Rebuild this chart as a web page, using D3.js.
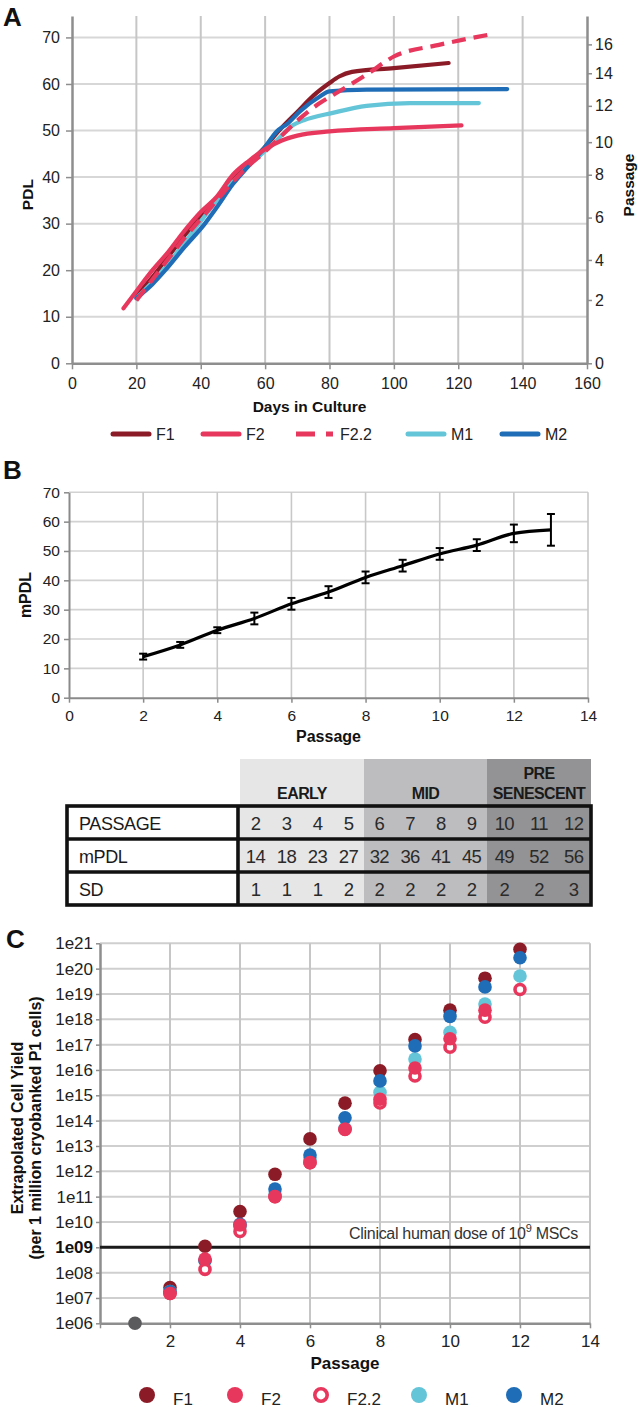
<!DOCTYPE html>
<html><head><meta charset="utf-8">
<script src="https://cdn.jsdelivr.net/npm/d3@7"></script>
<style>
body{margin:0;background:#fff;}
svg{display:block;font-family:"Liberation Sans",Arial,Helvetica,sans-serif;}
</style></head><body>
<svg id="chart" width="638" height="1407"></svg>
<script>
// ---------------- DATA ----------------
// Panel A: PDL vs days in culture
const seriesNames = ["F1","F2","F2.2","M1","M2"];
const curveF1  = [[20,14.5],[25,18.5],[30,23],[35,27.5],[40,31.5],[45,35.5],[50,39.5],[55,43],[60,46.5],[65,50.5],[70,54],[75,57.5],[80,60.2],[83,61.6],[87,62.6],[100,63.4],[117,64.5]];
const curveF2  = [[16,11.8],[20,15.5],[25,20],[30,24],[35,28.5],[40,32.5],[45,35.8],[50,40.5],[55,43.5],[60,46],[65,47.8],[70,48.9],[80,49.8],[100,50.5],[121,51.1]];
const curveF22 = [[20,13.5],[25,18],[30,22.5],[35,27],[40,31],[45,35],[50,39],[55,42.5],[60,45.5],[65,48.8],[71,52.7],[77,55.9],[82,58],[91.5,62],[100,65.9],[114,68.4],[130.5,70.7]];
const curveM1  = [[20,14],[25,17.5],[30,21.5],[35,26],[40,30.5],[45,35],[50,39],[55,42.5],[58,44.4],[63,47.5],[68.7,51.2],[72,52.2],[81,53.8],[91.5,55.3],[105,55.9],[126.4,55.9]];
const curveM2  = [[20,14],[25,17],[29,20],[35,25],[41.3,30],[45,33.5],[50,38.5],[55,42.5],[60,46.5],[63.6,49.8],[67,51.5],[70.8,54.1],[77,57.3],[80,58.4],[91.5,58.8],[135.2,58.9]];
const daysTicks = [0,20,40,60,80,100,120,140,160];
const pdlTicks = [0,10,20,30,40,50,60,70];
const passageTicks = [0,2,4,6,8,10,12,14,16];
const passageTickPDL = [0,13.6,22.2,31.3,40.5,47.5,55.3,62.3,68.5];

// Panel B: mean PDL by passage
const passagesB = [2,3,4,5,6,7,8,9,10,11,12,13];
const mPDL = [14,18,23,27,32,36,41,45,49,52,56,57.2];
const sdB  = [1,1,1,2,2,2,2,2,2,2,3,5.4];
const passTicksB = [0,2,4,6,8,10,12,14];
const mpdlTicks = [0,10,20,30,40,50,60,70];

// Table
const stageNames = ["EARLY","MID","PRE SENESCENT"];
const stageCounts = [4,4,3];
const tablePassage = [2,3,4,5,6,7,8,9,10,11,12];
const tableMPDL = [14,18,23,27,32,36,41,45,49,52,56];
const tableSD = [1,1,1,2,2,2,2,2,2,2,3];
const rowLabels = ["PASSAGE","mPDL","SD"];

// Panel C: extrapolated cell yield (passage 2..12)
const passagesC = [2,3,4,5,6,7,8,9,10,11,12];
const yieldF1  = [2.6e7,1.1e9,2.6e10,7.6e11,1.9e13,4.9e14,9.3e15,1.6e17,2.3e18,4.2e19,5.8e20];
const yieldF2  = [1.5e7,3.4e8,7.6e9,1.0e11,2.2e12,4.6e13,7.0e14,1.2e16,1.7e17,2.3e18];
const yieldF22 = [1.5e7,1.35e8,4.2e9,1.0e11,2.2e12,4.5e13,5.0e14,5.8e15,7.9e16,1.2e18,1.5e19];
const yieldM1  = [1.8e7,3.0e8,6.5e9,1.2e11,3.0e12,5.0e13,1.3e15,2.7e16,3.1e17,4.0e18,5.1e19];
const yieldM2  = [1.8e7,3.0e8,8.0e9,2.0e11,4.4e12,1.3e14,3.7e15,8.9e16,1.3e18,1.9e19,2.7e20];
const startPoint = [1, 1e6];
const clinicalDose = 1e9;
const yieldTickExp = d3.range(6,22);
const passTicksC = [2,4,6,8,10,12,14];

// ---------------- STYLE ----------------
const colors = {"F1":"#8b1c27","F2":"#e8375c","F2.2":"#e8375c","M1":"#64c4d8","M2":"#1f6db6"};
const svg = d3.select("#chart");
svg.append("rect").attr("width",638).attr("height",1407).attr("fill","#fff");

function styleAxis(g, col, dw, fs, tcol){
  g.select(".domain").attr("stroke",col).attr("stroke-width",dw);
  g.selectAll(".tick line").attr("stroke",col).attr("stroke-width",1.5);
  g.selectAll(".tick text").attr("font-size",fs).attr("fill",tcol||"#222").attr("font-family","'Liberation Sans',Arial,sans-serif");
}
function panelLabel(t,x,y){
  svg.append("text").attr("x",x).attr("y",y).attr("font-size",26).attr("font-weight","bold").attr("fill","#111").text(t);
}

// ---------------- PANEL A ----------------
{
const xA = d3.scaleLinear().domain([0,160]).range([72,587]);
const yA = d3.scaleLinear().domain([0,74.6]).range([363.3,16]);
const g = svg.append("g");
g.selectAll(".hg").data(pdlTicks.slice(1)).join("line")
  .attr("x1",xA(0)).attr("x2",xA(160)).attr("y1",d=>yA(d)).attr("y2",d=>yA(d))
  .attr("stroke","#d7d7d7").attr("stroke-width",2);
g.selectAll(".vg").data(daysTicks.slice(1,-1)).join("line")
  .attr("x1",d=>xA(d)).attr("x2",d=>xA(d)).attr("y1",yA(0)).attr("y2",yA.range()[1])
  .attr("stroke","#c6c6c6").attr("stroke-width",2);
const aL = g.append("g").attr("transform",`translate(${xA(0)},0)`)
  .call(d3.axisLeft(yA).tickValues(pdlTicks).tickSize(6).tickSizeOuter(0).tickPadding(6));
styleAxis(aL,"#8e8e8e",2.5,16);
const aB = g.append("g").attr("transform",`translate(0,${yA(0)})`)
  .call(d3.axisBottom(xA).tickValues(daysTicks).tickSize(6).tickSizeOuter(0).tickPadding(8));
styleAxis(aB,"#8e8e8e",2.5,16);
const aR = g.append("g").attr("transform",`translate(${xA(160)},0)`)
  .call(d3.axisRight(yA).tickValues(passageTickPDL).tickFormat((d,i)=>passageTicks[i]).tickSize(5).tickSizeOuter(0).tickPadding(3));
styleAxis(aR,"#8e8e8e",2.5,16);

const line = d3.line().x(d=>xA(d[0])).y(d=>yA(d[1])).curve(d3.curveMonotoneX);
const drawOrder = [["F1",curveF1],["M1",curveM1],["M2",curveM2],["F2",curveF2],["F2.2",curveF22]];
drawOrder.forEach(([n,data])=>{
  g.append("path").datum(data).attr("d",line).attr("fill","none")
   .attr("stroke",colors[n]).attr("stroke-width",4.2).attr("stroke-linecap", n==="F2.2"?"butt":"round")
   .attr("stroke-linejoin","round").attr("stroke-dasharray", n==="F2.2"?"14,8":null);
});
g.append("text").attr("x",(xA(0)+xA(160))/2-20).attr("y",412).attr("text-anchor","middle")
  .attr("font-size",15.5).attr("font-weight","bold").attr("fill","#111").text("Days in Culture");
g.append("text").attr("transform",`translate(27,${(yA(0)+yA.range()[1])/2+5}) rotate(-90)`).attr("text-anchor","middle")
  .attr("dominant-baseline","central").attr("font-size",15.5).attr("font-weight","bold").attr("fill","#111").text("PDL");
g.append("text").attr("transform",`translate(628,185) rotate(-90)`).attr("text-anchor","middle")
  .attr("dominant-baseline","central").attr("font-size",15.5).attr("font-weight","bold").attr("fill","#111").text("Passage");
// legend
const legAX = [113,203,296,408,502];
seriesNames.forEach((n,i)=>{
  const lg = g.append("g");
  lg.append("line").attr("x1",legAX[i]).attr("x2",legAX[i]+(n==="F2.2"?37:36)).attr("y1",434).attr("y2",434)
    .attr("stroke",colors[n]).attr("stroke-width",5).attr("stroke-linecap",n==="F2.2"?"butt":"round")
    .attr("stroke-dasharray",n==="F2.2"?"19,11":null);
  lg.append("text").attr("x",legAX[i]+(n==="F2.2"?44:43)).attr("y",434).attr("dominant-baseline","central")
    .attr("font-size",16).attr("fill","#222").text(n);
});
panelLabel("A",3,26);
}

// ---------------- PANEL B ----------------
{
const xB = d3.scaleLinear().domain([0,14]).range([69,588]);
const yB = d3.scaleLinear().domain([0,70]).range([697.7,492.3]);
const g = svg.append("g");
g.selectAll(".hg").data(mpdlTicks.slice(1)).join("line")
  .attr("x1",xB(0)).attr("x2",xB(14)).attr("y1",d=>yB(d)).attr("y2",d=>yB(d))
  .attr("stroke","#d2d2d2").attr("stroke-width",1.6);
g.selectAll(".vg").data(passTicksB.slice(1)).join("line")
  .attr("x1",d=>xB(d)).attr("x2",d=>xB(d)).attr("y1",yB(0)).attr("y2",yB(70))
  .attr("stroke","#c8c8c8").attr("stroke-width",1.6);
const aL = g.append("g").attr("transform",`translate(${xB(0)},0)`)
  .call(d3.axisLeft(yB).tickValues(mpdlTicks).tickSize(5).tickSizeOuter(0).tickPadding(4));
styleAxis(aL,"#8a8a8a",2,15.5);
const aB = g.append("g").attr("transform",`translate(0,${yB(0)})`)
  .call(d3.axisBottom(xB).tickValues(passTicksB).tickSize(5).tickSizeOuter(0).tickPadding(7));
styleAxis(aB,"#8a8a8a",2,15.5);
const pts = passagesB.map((p,i)=>({p, m:mPDL[i], sd:sdB[i]}));
g.append("path").datum(pts).attr("d",d3.line().x(d=>xB(d.p)).y(d=>yB(d.m)).curve(d3.curveMonotoneX))
  .attr("fill","none").attr("stroke","#000").attr("stroke-width",3.2);
const eb = g.selectAll(".eb").data(pts).join("g");
eb.append("line").attr("x1",d=>xB(d.p)).attr("x2",d=>xB(d.p)).attr("y1",d=>yB(d.m-d.sd)).attr("y2",d=>yB(d.m+d.sd)).attr("stroke","#000").attr("stroke-width",2);
eb.append("line").attr("x1",d=>xB(d.p)-4).attr("x2",d=>xB(d.p)+4).attr("y1",d=>yB(d.m-d.sd)).attr("y2",d=>yB(d.m-d.sd)).attr("stroke","#000").attr("stroke-width",2);
eb.append("line").attr("x1",d=>xB(d.p)-4).attr("x2",d=>xB(d.p)+4).attr("y1",d=>yB(d.m+d.sd)).attr("y2",d=>yB(d.m+d.sd)).attr("stroke","#000").attr("stroke-width",2);
g.append("text").attr("x",(xB(0)+xB(14))/2).attr("y",742).attr("text-anchor","middle")
  .attr("font-size",16).attr("font-weight","bold").attr("fill","#111").text("Passage");
g.append("text").attr("transform",`translate(25,${(yB(0)+yB(70))/2}) rotate(-90)`).attr("text-anchor","middle")
  .attr("dominant-baseline","central").attr("font-size",16).attr("font-weight","bold").attr("fill","#111").text("mPDL");
panelLabel("B",3,479);
}

// ---------------- TABLE ----------------
{
const g = svg.append("g");
const groupEdges = [240,364,487,591];
const headTop = 759, bodyTop = 806, rowH = 33, labelL = 67, labelR = 238;
const stageFill = ["#e6e6e7","#bdbdbf","#939395"];
const nRows = rowLabels.length;
const colX = [];
stageCounts.forEach((c,s)=>{
  const sc = d3.scaleBand().domain(d3.range(c)).range([groupEdges[s],groupEdges[s+1]]);
  d3.range(c).forEach(k=>{ colX.push(sc(k)+sc.bandwidth()/2); });
});
stageNames.forEach((n,s)=>{
  g.append("rect").attr("x",groupEdges[s]).attr("y",headTop).attr("width",groupEdges[s+1]-groupEdges[s])
    .attr("height",bodyTop+nRows*rowH-headTop).attr("fill",stageFill[s]);
  const words = n.split(" ");
  words.forEach((w,k)=>{
    g.append("text").attr("x",(groupEdges[s]+groupEdges[s+1])/2).attr("y",headTop+34-(words.length-1-k)*20)
      .attr("text-anchor","middle").attr("dominant-baseline","central").attr("font-size",16).attr("font-weight","bold")
      .attr("fill","#1a1a1a").attr("letter-spacing",-0.6).text(w);
  });
});
g.append("rect").attr("x",labelL).attr("y",bodyTop).attr("width",labelR-labelL).attr("height",nRows*rowH).attr("fill","#fff");
const rows = [tablePassage, tableMPDL, tableSD];
rows.forEach((vals,r)=>{
  const cy = bodyTop + r*rowH + rowH/2;
  g.append("text").attr("x",labelL+12).attr("y",cy+1).attr("dominant-baseline","central").attr("font-size",18)
    .attr("fill","#1a1a1a").attr("letter-spacing",-0.4).text(rowLabels[r]);
  vals.forEach((v,i)=>{
    g.append("text").attr("x",colX[i]).attr("y",cy+1).attr("text-anchor","middle").attr("dominant-baseline","central")
      .attr("font-size",18.5).attr("fill","#2a2a2a").attr("letter-spacing",-0.6).text(v);
  });
});
const bw = 3.6;
g.append("rect").attr("x",labelL).attr("y",bodyTop).attr("width",groupEdges[3]-labelL).attr("height",nRows*rowH)
  .attr("fill","none").attr("stroke","#111").attr("stroke-width",bw);
d3.range(1,nRows).forEach(r=>{
  g.append("line").attr("x1",labelL).attr("x2",groupEdges[3]).attr("y1",bodyTop+r*rowH).attr("y2",bodyTop+r*rowH)
    .attr("stroke","#111").attr("stroke-width",bw);
});
g.append("line").attr("x1",labelR).attr("x2",labelR).attr("y1",bodyTop).attr("y2",bodyTop+nRows*rowH)
  .attr("stroke","#111").attr("stroke-width",bw);
}

// ---------------- PANEL C ----------------
{
const xC = d3.scaleLinear().domain([0,14]).range([100,590]);
const yC = d3.scaleLog().domain([1e6,1e21]).range([1323.3,943.3]);
const g = svg.append("g");
g.selectAll(".hg").data(yieldTickExp.slice(1)).join("line")
  .attr("x1",xC(0)).attr("x2",xC(14)).attr("y1",d=>yC(Math.pow(10,d))).attr("y2",d=>yC(Math.pow(10,d)))
  .attr("stroke","#cfcfcf").attr("stroke-width",2);
g.selectAll(".vg").data(passTicksC).join("line")
  .attr("x1",d=>xC(d)).attr("x2",d=>xC(d)).attr("y1",yC(1e6)).attr("y2",yC(1e21))
  .attr("stroke","#c6c6c6").attr("stroke-width",2);
const aL = g.append("g").attr("transform",`translate(${xC(0)},0)`)
  .call(d3.axisLeft(yC).tickValues(yieldTickExp.map(e=>Math.pow(10,e)))
    .tickFormat(d=>"1e"+String(Math.round(Math.log10(d))).padStart(2,"0")).tickSize(4).tickSizeOuter(0).tickPadding(3));
styleAxis(aL,"#8e8e8e",2.5,17,"#222");
aL.selectAll(".tick text").attr("font-weight",d=>Math.round(Math.log10(d))===9?"bold":"normal").attr("fill",d=>Math.round(Math.log10(d))===9?"#111":"#222");
const aB = g.append("g").attr("transform",`translate(0,${yC(1e6)})`)
  .call(d3.axisBottom(xC).tickValues([0].concat(passTicksC)).tickFormat(d=>d===0?"":d).tickSize(5).tickSizeOuter(0).tickPadding(7));
styleAxis(aB,"#8e8e8e",2.5,17,"#222");
g.append("line").attr("x1",xC(0)).attr("x2",xC(14)).attr("y1",yC(clinicalDose)).attr("y2",yC(clinicalDose))
  .attr("stroke","#1a1a1a").attr("stroke-width",3);
const ct = g.append("text").attr("x",578).attr("y",yC(clinicalDose)-8).attr("text-anchor","end")
  .attr("font-size",16).attr("fill","#333").attr("letter-spacing",-0.3);
ct.append("tspan").text("Clinical human dose of 10");
ct.append("tspan").attr("dy",-7).attr("font-size",11).text("9");
ct.append("tspan").attr("dy",7).text(" MSCs");
// points
const drawC = [["F1",yieldF1],["M1",yieldM1],["M2",yieldM2],["F2.2",yieldF22],["F2",yieldF2]];
g.append("circle").attr("cx",xC(startPoint[0])).attr("cy",yC(startPoint[1])).attr("r",6.8).attr("fill","#5b5b5e");
drawC.forEach(([n,vals])=>{
  const d = vals.map((v,i)=>({p:passagesC[i], v}));
  g.selectAll(null).data(d).join("circle").attr("cx",q=>xC(q.p)).attr("cy",q=>yC(q.v))
    .attr("r", n==="F2.2"?5.0:6.8)
    .attr("fill", n==="F2.2"?"#fff":colors[n])
    .attr("stroke", n==="F2.2"?colors[n]:"none").attr("stroke-width", n==="F2.2"?3.6:0);
});
g.append("text").attr("x",345).attr("y",1369).attr("text-anchor","middle")
  .attr("font-size",17).attr("font-weight","bold").attr("fill","#111").text("Passage");
const cyMid = 1128;
g.append("text").attr("transform",`translate(17,${cyMid}) rotate(-90)`).attr("text-anchor","middle")
  .attr("dominant-baseline","central").attr("font-size",16).attr("font-weight","bold").attr("fill","#111").text("Extrapolated Cell Yield");
g.append("text").attr("transform",`translate(35,${cyMid}) rotate(-90)`).attr("text-anchor","middle")
  .attr("dominant-baseline","central").attr("font-size",16).attr("font-weight","bold").attr("fill","#111").text("(per 1 million cryobanked P1 cells)");
const legCX = [147,235,321,419,514];
seriesNames.forEach((n,i)=>{
  if(n==="F2.2"){
    g.append("circle").attr("cx",legCX[i]).attr("cy",1395).attr("r",6.2).attr("fill","#fff").attr("stroke",colors[n]).attr("stroke-width",3.6);
  } else {
    g.append("circle").attr("cx",legCX[i]).attr("cy",1395).attr("r",8).attr("fill",colors[n]);
  }
  g.append("text").attr("x",legCX[i]+26).attr("y",1399).attr("dominant-baseline","central")
    .attr("font-size",17).attr("fill","#222").text(n);
});
panelLabel("C",6,948);
}
</script></body></html>
